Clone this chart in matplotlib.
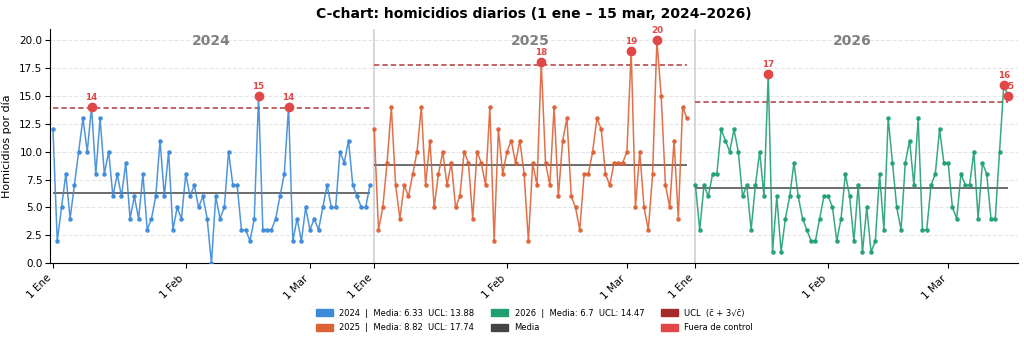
import numpy as np
import matplotlib
matplotlib.use("Agg")
import matplotlib.pyplot as plt
from matplotlib.patches import Patch

years = ["2024", "2025", "2026"]
colors = ["#3d8ad9", "#dd6236", "#20a070"]
vals_2024 = [12, 2, 5, 8, 4, 7, 10, 13, 10, 14, 8, 13, 8, 10, 6, 8, 6, 9, 4, 6,
             4, 8, 3, 4, 6, 11, 6, 10, 3, 5, 4,
             8, 6, 7, 5, 6, 4, 0, 6, 4, 5, 10, 7, 7, 3, 3, 2, 4, 15, 3, 3,
             3, 4, 6, 8, 14, 2, 4, 2, 5,
             3, 4, 3, 5, 7, 5, 5, 10, 9, 11, 7, 6, 5, 5, 7]
vals_2025 = [12, 3, 5, 9, 14, 7, 4, 7, 6, 8, 10, 14, 7, 11, 5, 8, 10, 7, 9, 5,
             6, 10, 9, 4, 10, 9, 7, 14, 2, 12, 8,
             10, 11, 9, 11, 8, 2, 9, 7, 18, 9, 7, 14, 6, 11, 13, 6, 5, 3, 8,
             8, 10, 13, 12, 8, 7, 9, 9, 9,
             10, 19, 5, 10, 5, 3, 8, 20, 15, 7, 5, 11, 4, 14, 13]
vals_2026 = [7, 3, 7, 6, 8, 8, 12, 11, 10, 12, 10, 6, 7, 3, 7, 10, 6, 17, 1, 6,
             1, 4, 6, 9, 6, 4, 3, 2, 2, 4, 6,
             6, 5, 2, 4, 8, 6, 2, 7, 1, 5, 1, 2, 8, 3, 13, 9, 5, 3, 9,
             11, 7, 13, 3, 3, 7, 8, 12, 9,
             9, 5, 4, 8, 7, 7, 10, 4, 9, 8, 4, 4, 10, 16, 15]
series = [vals_2024, vals_2025, vals_2026]
tick_labels = ["1 Ene", "1 Feb", "1 Mar"]
tick_days = [0, 31, 60]  # 2024 (leap year)
tick_days_other = [0, 31, 59]

fig = plt.figure(figsize=(10.24, 3.4), dpi=100)
ax = fig.add_axes([0.0488, 0.2256, 0.9453, 0.6894])

offset_step = 75
ucl_color = "#b03a3a"
out_color = "#e04848"
mean_color = "#444444"

ticks, tlabels = [], []
handles = []
for i, (yr, vals, col) in enumerate(zip(years, series, colors)):
    off = i * offset_step
    vals = np.array(vals, dtype=float)
    x = np.arange(len(vals)) + off
    mean = vals.mean()
    ucl = mean + 3 * np.sqrt(mean)
    ax.plot(x, vals, color=col, lw=1.1, marker="o", ms=2.3, alpha=0.9, zorder=3)
    ax.hlines(mean, x[0], x[-1], color=mean_color, lw=1.1, zorder=2)
    ax.hlines(ucl, x[0], x[-1], color=ucl_color, lw=1.1, ls=(0, (3.5, 2)), zorder=2)
    mask = vals > ucl
    ax.scatter(x[mask], vals[mask], s=36, color=out_color, zorder=5)
    for xx, vv in zip(x[mask], vals[mask]):
        ax.text(xx, vv + 0.45, f"{int(vv)}", color=out_color, fontsize=6.3,
                fontweight="bold", ha="center", va="bottom", zorder=6)
    ax.text(off + (len(vals) - 1) / 2, 19.9, yr, color="#808080", fontsize=10,
            fontweight="bold", ha="center", va="center")
    if i > 0:
        ax.axvline(off, color="#d0d0d0", lw=1.2, zorder=1)
    td = tick_days if i == 0 else tick_days_other
    for d, lab in zip(td, tick_labels):
        ticks.append(off + d)
        tlabels.append(lab)
    mstr = f"{round(mean, 2):g}"
    handles.append(Patch(color=col, label=f"{yr}  |  Media: {mstr}  UCL: {ucl:.2f}"))

ax.set_xlim(-0.7, 225.3)
ax.set_ylim(0, 21)
yt = np.arange(0, 20.1, 2.5)
ax.set_yticks(yt)
ax.set_yticklabels([f"{v:.1f}" for v in yt], fontsize=7.5)
ax.tick_params(axis="y", pad=2)
ax.set_xticks(ticks)
ax.set_xticklabels(tlabels, rotation=45, ha="right", fontsize=7.5)
ax.grid(axis="y", color="#e6e6e6", ls="--", lw=0.8)
ax.set_axisbelow(True)
for s in ["top", "right"]:
    ax.spines[s].set_visible(False)
ax.set_ylabel("Homicidios por día", fontsize=8, labelpad=5)
ax.set_title("C-chart: homicidios diarios (1 ene – 15 mar, 2024–2026)",
             fontsize=10, fontweight="bold", pad=8)

leg_handles = [handles[0], handles[1], handles[2],
               Patch(color=mean_color, label="Media"),
               Patch(color="#a52a2a", label="UCL  (c̄ + 3√c̄)"),
               Patch(color=out_color, label="Fuera de control")]
fig.legend(handles=leg_handles, loc="lower center", ncol=3, frameon=False,
           fontsize=6.0, bbox_to_anchor=(0.522, 0.0), handlelength=2.0,
           handleheight=0.9, columnspacing=2.0, labelspacing=0.7)

fig.savefig("out.png", dpi=100)
